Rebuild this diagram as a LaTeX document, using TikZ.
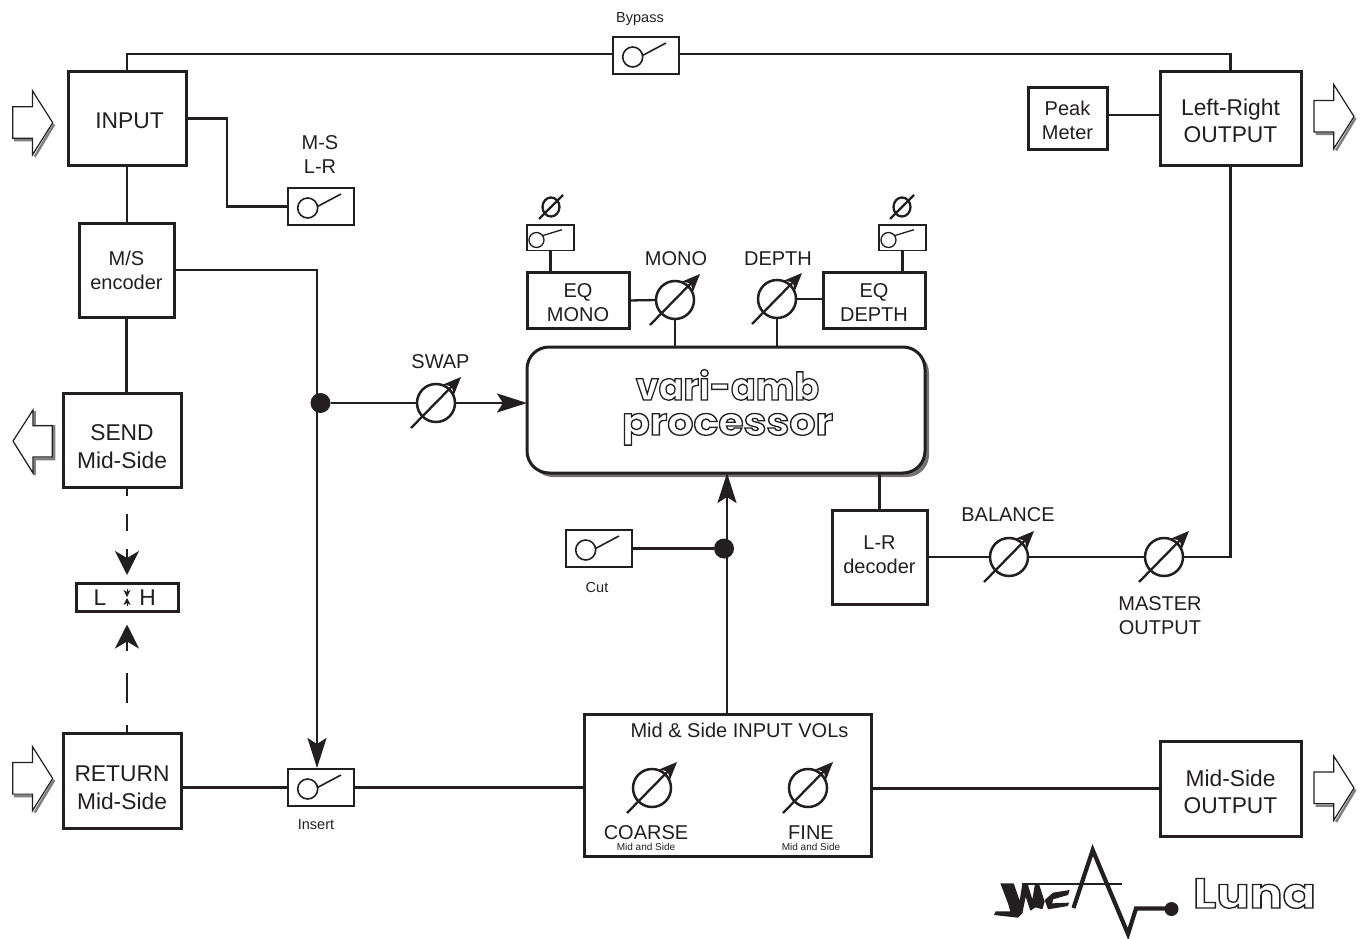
\documentclass[tikz,border=0pt]{standalone}
\usepackage{fontspec}
\setmainfont{Liberation Sans}
\newfontfamily\logofont{Poppins}
\usetikzlibrary{arrows.meta,shadows,calc}
\definecolor{ink}{HTML}{231F20}
\newcommand{\fs}[2]{\fontsize{#1pt}{#2pt}\selectfont}
\newcommand{\outlined}[1]{\special{pdf:code q 2 Tr 1.3 w 0.14 0.12 0.13 RG 1 1 1 rg}#1\special{pdf:code Q}}
% text block moved by dx, dy inside its box
\newcommand{\tx}[3]{\vbox{\vskip 6pt\vskip #2pt\vskip #2pt\hbox{\kern #1pt\kern #1pt\begin{tabular}{@{}c@{}}#3\end{tabular}}}}
\tikzset{
  wire/.style={line width=2.3pt,draw=ink},
  boxn/.style={draw=ink,line width=3pt,fill=white,inner sep=0pt,outer sep=0pt,align=center,text=ink},
  big/.style={font=\fs{22.8}{27.5}},
  mid/.style={font=\fs{20}{24}},
  lab/.style={inner sep=0pt,align=center,text=ink,font=\fs{20}{24}},
  labbig/.style={inner sep=0pt,align=center,text=ink,font=\fs{22.8}{24}},
  tiny/.style={inner sep=0pt,align=center,text=ink,font=\fs{14.5}{17}},
  mini/.style={inner sep=0pt,align=center,text=ink,font=\fs{10}{11}},
  swbox/.style={draw=ink,line width=1.3pt,fill=white,inner sep=0pt,outer sep=0pt},
  potc/.style={circle,draw=ink,line width=2.5pt,fill=white,minimum size=38pt,inner sep=0pt,outer sep=0pt},
  dotn/.style={circle,fill=ink,minimum size=20pt,inner sep=0pt,outer sep=0pt},
  potarrow/.style={line width=2.3pt,draw=ink,-{Stealth[length=18pt,width=15pt,inset=5pt]}},
  hz/.style={-{Stealth[length=30pt,width=19pt,inset=6pt]}},
  vt/.style={-{Stealth[length=24pt,width=24pt,inset=7pt]}},
  hollow/.style={draw=ink,line width=1.2pt,fill=white,line join=miter},
  hollowsh/.style={draw=black!50,line width=2.5pt,line join=miter},
}
% pot: name, x, y
\newcommand{\potn}[3]{%
  \node[potc] (#1) at (#2,#3) {};
  \draw[potarrow] (#2-25,#3+25) -- (#2+25,#3-26);}
% large switch: name, x-left, y-top
\newcommand{\swn}[3]{%
  \node[swbox,minimum width=66pt,minimum height=37pt] (#1) at (#2+33,#3+18.5) {};
  \begin{scope}[shift={(#2,#3)}]
    \draw[ink,line width=1.6pt] (19.7,20) circle (10);
    \draw[ink,line width=1.6pt] (29.5,18.5) -- (53,6);
  \end{scope}}
% small switch
\newcommand{\sws}[3]{%
  \node[swbox,minimum width=47pt,minimum height=25.5pt] (#1) at (#2+23.5,#3+12.75) {};
  \begin{scope}[shift={(#2,#3)}]
    \draw[ink,line width=1.3pt] (9.5,15) circle (7.5);
    \draw[ink,line width=1.3pt] (15.3,10.7) -- (35,4.7);
  \end{scope}}
% phase symbol
\newcommand{\phis}[2]{%
  \begin{scope}[shift={(#1,#2)}]
    \draw[ink,line width=2.3pt] (0,0) ellipse (8.5 and 9.5);
    \draw[ink,line width=2.3pt] (-12,12) -- (12,-12);
  \end{scope}}
% hollow arrows, tip at x y
\newcommand{\harrowR}[2]{%
  \begin{scope}[shift={(#1,#2)}]
    \draw[hollowsh] (-38.5,17.5) -- (-18,17.5) (-18,34) -- (1.5,1.5);
    \draw[hollow] (-40,-16) -- (-20.3,-16) -- (-20.3,-32) -- (0,0) -- (-20.3,32.3) -- (-20.3,15.6) -- (-40,15.6) -- cycle;
  \end{scope}}
\newcommand{\harrowL}[2]{%
  \begin{scope}[shift={(#1,#2)}]
    \draw[hollowsh] (21.7,-30) -- (21.7,-15) -- (41,-15) -- (41,18) -- (21.7,18) -- (21.7,34) (2,2) -- (21.5,33);
    \draw[hollow] (0,0) -- (20,-31) -- (20,-15.3) -- (39.3,-15.3) -- (39.3,16) -- (20,16) -- (20,32) -- cycle;
  \end{scope}}
\begin{document}
\begin{tikzpicture}[x=1pt,y=-1pt]
\useasboundingbox (0,0) rectangle (1365,939);
% boxes
\node[boxn,big,minimum width=118pt,minimum height=93pt] (input) at (127,118.5) {\tx{2.5}{2}{INPUT}};
\node[boxn,big,minimum width=141pt,minimum height=93pt] (lr) at (1230.5,118.5) {\tx{0}{2}{Left-Right\\OUTPUT}};
\node[boxn,mid,minimum width=79pt,minimum height=62pt] (peak) at (1067.5,119) {\tx{0}{1}{Peak\\Meter}};
\node[boxn,mid,minimum width=95pt,minimum height=94pt] (enc) at (126.5,270) {\tx{0}{0}{M/S\\encoder}};
\node[boxn,big,minimum width=118pt,minimum height=94pt] (send) at (122,440) {\tx{0}{6}{SEND\\Mid-Side}};
\node[boxn,big,minimum width=118pt,minimum height=95pt] (ret) at (122,780.5) {\tx{0}{6.5}{RETURN\\Mid-Side}};
\node[boxn,big,minimum width=141pt,minimum height=95pt] (msout) at (1230.5,788.5) {\tx{0}{3}{Mid-Side\\OUTPUT}};
\node[boxn,mid,minimum width=102pt,minimum height=53pt] (eqm) at (578,300.5) {\tx{0}{1}{EQ\\MONO}};
\node[boxn,mid,minimum width=102pt,minimum height=53pt] (eqd) at (874,300.5) {\tx{0}{1}{EQ\\DEPTH}};
\node[boxn,mid,minimum width=95pt,minimum height=94pt] (dec) at (879.5,557) {\tx{0}{-3}{L-R\\decoder}};
\node[boxn,minimum width=102pt,minimum height=28pt] (lh) at (127,597) {};
\node[boxn,minimum width=287pt,minimum height=142pt] (midb) at (727.5,785) {};
\node[boxn,rounded corners=22pt,minimum width=398pt,minimum height=126pt,
      general shadow={fill=black!55,shadow xshift=4pt,shadow yshift=-4pt}] (proc) at (726,410) {};
% processor title
\node[inner sep=0pt,anchor=base] (t1) at (727.5,400) {\logofont\bfseries\fs{38}{38}\scalebox{0.96}[1]{\outlined{vari-amb}}};
\node[inner sep=0pt,anchor=base] (t2) at (727.5,435) {\logofont\bfseries\fs{38}{38}\scalebox{1.08}[1]{\outlined{processor}}};
% switches
\swn{bypass}{613}{37}
\swn{ms}{288}{188}
\swn{insw}{288}{769}
\swn{cut}{566}{530}
\sws{swm}{527}{225}
\sws{swd}{879}{225}
\phis{551}{207}
\phis{902}{207}
% pots
\potn{swap}{436}{403}
\potn{mono}{675}{300}
\potn{depth}{777}{299}
\potn{bal}{1009}{557}
\potn{master}{1164}{557}
\potn{coarse}{652}{788}
\potn{fine}{808}{788}
% dots
\node[dotn] (dots) at (320.5,403) {};
\node[dotn] (dotc) at (724,548.5) {};
\coordinate (insin) at (317,768);
\coordinate (procin) at (727,473);
% labels
\node[tiny] (lbyp) at (640,19) {Bypass};
\node[lab] (lms) at (320,154.5) {M-S\\L-R};
\node[lab] (lswap) at (440.5,362) {SWAP};
\node[lab] (lmono) at (676,258.5) {MONO};
\node[lab] (ldepth) at (778,258.5) {DEPTH};
\node[lab] (lbal) at (1008,514.5) {BALANCE};
\node[lab] (lmast) at (1160,615.5) {MASTER\\OUTPUT};
\node[tiny] (lcut) at (597,588) {Cut};
\node[tiny] (lins) at (316,825) {Insert};
\node[lab] (lmid) at (739.5,730.5) {Mid \& Side INPUT VOLs};
\node[lab] (lco) at (646,833) {COARSE};
\node[mini] (lcos) at (646,846.5) {Mid and Side};
\node[lab] (lfi) at (811,833) {FINE};
\node[mini] (lfis) at (811,846.5) {Mid and Side};
\node[labbig] (ll) at (100,598) {L};
\node[labbig] (lh2) at (147.5,598) {H};
% connectors
\draw[wire] (input.north) |- (bypass.west |- 0,54);
\draw[wire] (bypass.east |- 0,54) -| (lr.north);
\draw[wire] (input.south) -- (input.south |- enc.north);
\draw[wire] (enc.south) -- (enc.south |- send.north);
\draw[wire] (input.east) -- ++(41,0) |- (ms.west);
\draw[wire] (peak.east |- 0,115) -- (lr.west |- 0,115);
\draw[wire,hz] (enc.east) -| (insin);
\draw[wire] (dots) -- (swap.west);
\draw[wire,hz] (swap.east) -- (swap.east -| proc.west);
\draw[wire] (swm.south) -- (swm.south |- eqm.north);
\draw[wire] (swd.south) -- (swd.south |- eqd.north);
\draw[wire] (eqm.east) -- (mono.west);
\draw[wire] (eqd.west |- depth.east) -- (depth.east);
\draw[wire] (mono.south) -- (mono.south |- proc.north);
\draw[wire] (depth.south) -- (depth.south |- proc.north);
\draw[wire] (dec.north |- proc.south) -- (dec.north);
\draw[wire] (dec.east) -- (bal.west);
\draw[wire] (bal.east) -- (master.west);
\draw[wire] (master.east) -| (lr.south);
\draw[wire] (cut.east) -- (dotc);
\draw[wire,hz] (procin |- midb.north) -- (procin);
\draw[wire] (ret.east |- insw.west) -- (insw.west);
\draw[wire] (insw.east) -- (midb.west |- insw.east);
\draw[wire] (midb.east |- msout.west) -- (msout.west);
\draw[wire,vt,dash pattern=on 17pt off 18pt,dash phase=8pt] (send.south -| lh.north) -- ++(0,88);
\draw[wire,vt,dash pattern=on 30pt off 22pt,dash phase=22pt] (ret.north -| lh.south) -- ++(0,-108.5);
\draw[ink,line width=0.8pt,-{Stealth[length=7pt,width=7pt,inset=2pt]}] (127,589) -- (127,597);
\draw[ink,line width=0.8pt,-{Stealth[length=7pt,width=7pt,inset=2pt]}] (127,606) -- (127,598);
% hollow arrows
\harrowR{52.7}{122.7}
\harrowR{52.7}{778.5}
\harrowR{1354}{116.5}
\harrowR{1354}{788}
\harrowL{13}{441}
% logo
\draw[ink,line width=4.2pt,line join=miter,miter limit=10] (1073.5,908) -- (1092.7,850) -- (1128,934) -- (1136,908.5) -- (1171,908.5);
\fill[ink] (1171.5,909) circle (7);
\draw[ink,line width=2.8pt] (1022,884) -- (1122,884);
\begin{scope}[shift={(993,870)},scale=0.3333]
  \fill[ink] (22,40) -- (62,40) -- (80,92) -- (88,42) -- (104,42) -- (118,88) -- (126,42) -- (138,42) -- (155,95) -- (148,118) -- (128,112) -- (112,122) -- (98,80) -- (88,130) -- (75,143) -- (3,135) -- (8,124) -- (52,124) -- (45,100) -- cycle;
  \fill[ink] (230,60) -- (180,68) -- (155,90) -- (165,118) -- (225,108) -- (228,98) -- (178,100) -- (180,88) -- (225,75) -- cycle;
\end{scope}
\node[inner sep=0pt,anchor=base] (luna) at (1254.5,908) {\logofont\bfseries\fs{42}{42}\scalebox{1.17}[1]{\outlined{Luna}}};
\end{tikzpicture}
\end{document}
